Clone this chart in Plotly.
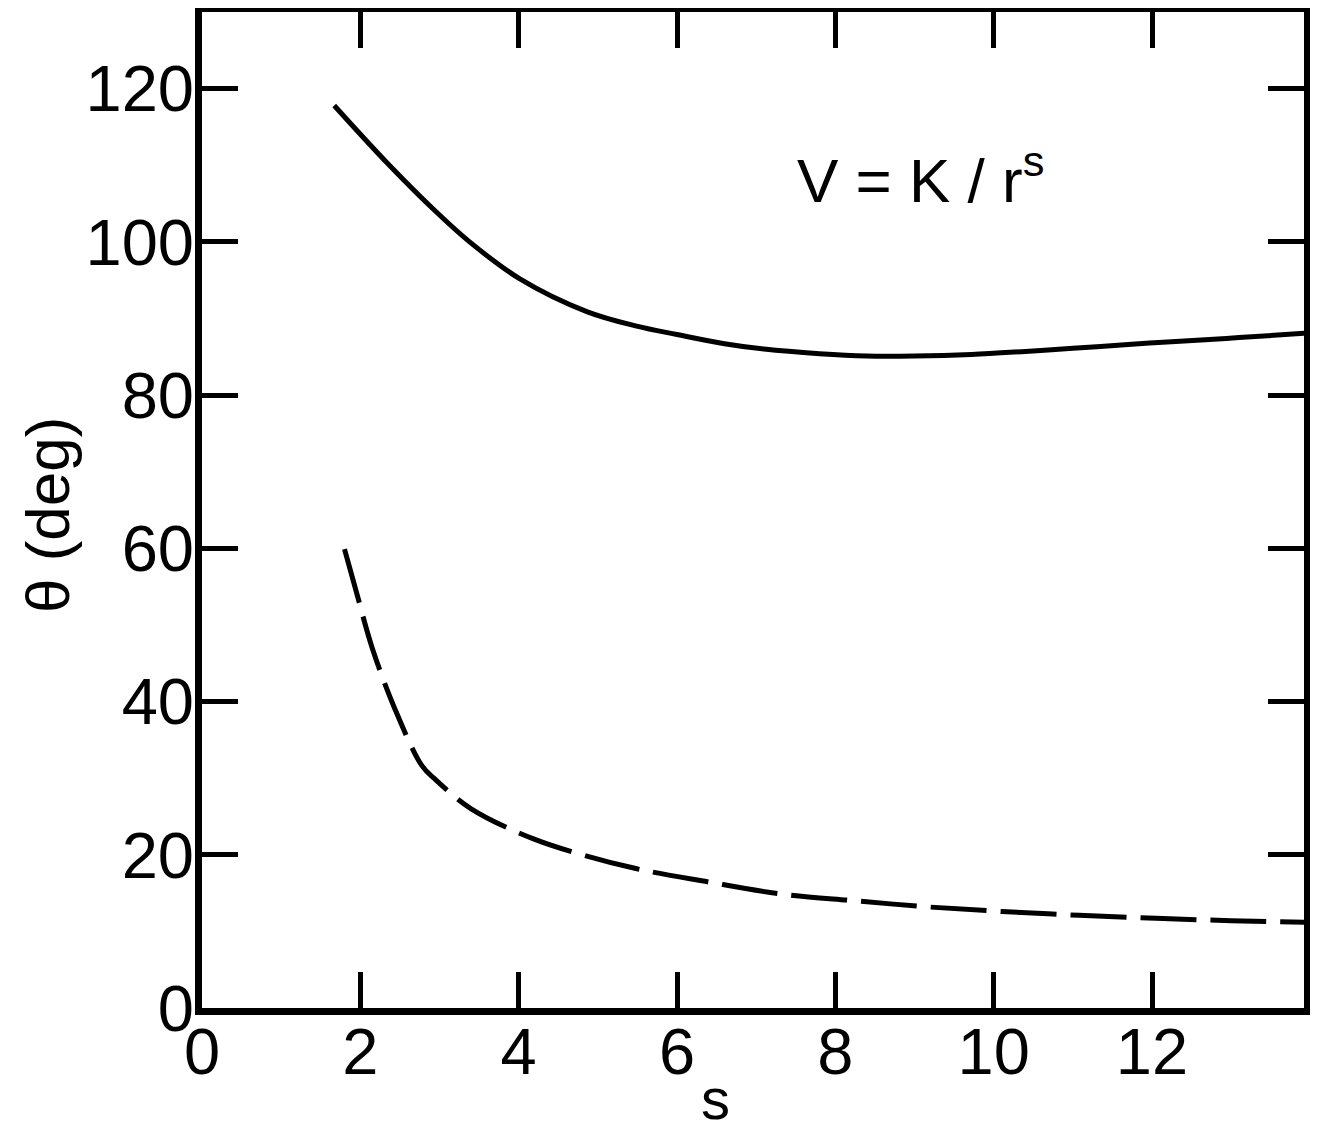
import plotly.graph_objects as go

# Solid curve (theta vs s)
s_solid = [1.67, 2.33, 2.96, 3.38, 4.01, 4.86, 5.49, 6.0, 6.6, 7.1, 7.8, 8.4, 9.0, 9.72, 10.4, 11.0, 11.7, 12.3, 13.1, 13.97]
th_solid = [117.8, 110.4, 103.9, 100.0, 95.2, 90.9, 89.0, 87.9, 86.7, 86.0, 85.4, 85.1, 85.1, 85.3, 85.7, 86.1, 86.6, 87.0, 87.5, 88.1]

# Dashed curve
s_dash = [1.8, 1.95, 2.15, 2.43, 2.78, 2.95, 3.4, 4.18, 4.77, 5.48, 6.37, 7.3, 8.25, 9.16, 10.1, 11.08, 12.05, 13.0, 13.96]
th_dash = [59.9, 54.3, 47.0, 39.2, 31.6, 29.8, 26.0, 22.1, 20.1, 18.2, 16.5, 14.9, 14.0, 13.2, 12.6, 12.1, 11.7, 11.4, 11.2]

x_ticks = [0, 2, 4, 6, 8, 10, 12]
y_ticks = [0, 20, 40, 60, 80, 100, 120]

FONT = "Liberation Sans"

# page body has an 8px margin; figure coords = screen - 8
OFF = 8
W, H = 1302, 1126
L, R, T, B = 202 - OFF, 1304 - OFF, 12 - OFF, 1008 - OFF

fig = go.Figure()
fig.add_trace(go.Scatter(x=s_solid, y=th_solid, mode="lines",
                         line=dict(color="black", width=5, shape="spline", smoothing=1.0),
                         showlegend=False))
fig.add_trace(go.Scatter(x=s_dash, y=th_dash, mode="lines",
                         line=dict(color="black", width=5, dash="56px,14px", shape="spline", smoothing=1.0),
                         showlegend=False))

axis_common = dict(showgrid=False, zeroline=False, showline=True, linecolor="black", linewidth=7,
                   mirror="allticks", ticks="inside", ticklen=36, tickwidth=5, tickcolor="black",
                   automargin=False,
                   tickfont=dict(family=FONT, size=65, color="black"))

fig.update_xaxes(range=[0, 13.92], tickvals=x_ticks, ticktext=[str(v) for v in x_ticks],
                 ticklabelstandoff=-19, **axis_common)
fig.update_yaxes(range=[0, 130], tickvals=y_ticks, ticktext=[str(v) for v in y_ticks],
                 ticklabelstandoff=-12, **axis_common)

def px(x):
    return (x - OFF - L) / (R - L)

def py(y):
    return (B - (y - OFF)) / (B - T)

fig.add_annotation(text="V = K / r<sup>s</sup>", x=px(920), y=py(176), xref="paper", yref="paper",
                   xanchor="center", yanchor="middle", showarrow=False,
                   font=dict(family=FONT, size=62, color="black"))
fig.add_annotation(text="s", x=px(715), y=py(1133), xref="paper", yref="paper",
                   xanchor="center", yanchor="bottom", showarrow=False,
                   font=dict(family=FONT, size=58, color="black"))
fig.add_annotation(text="θ (deg)", x=px(47), y=py(515), xref="paper", yref="paper",
                   xanchor="center", yanchor="middle", showarrow=False, textangle=-90,
                   font=dict(family=FONT, size=62, color="black"))

fig.update_layout(width=W, height=H, margin=dict(l=L, r=W - R, t=T, b=H - B, autoexpand=False),
                  plot_bgcolor="white", paper_bgcolor="white")

fig.write_html("out.html")
